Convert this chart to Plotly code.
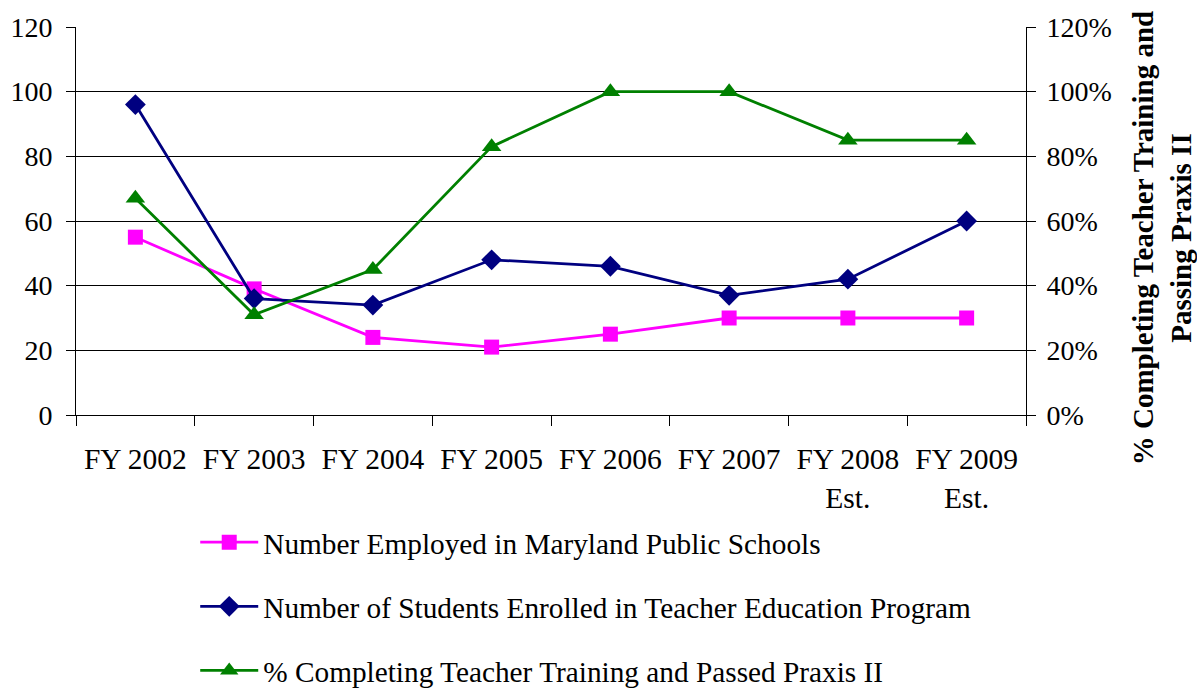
import plotly.graph_objects as go

categories = ["FY 2002", "FY 2003", "FY 2004", "FY 2005", "FY 2006", "FY 2007", "FY 2008<br>Est.", "FY 2009<br>Est."]
employed = [55, 39, 24, 21, 25, 30, 30, 30]
enrolled = [96, 36, 34, 48, 46, 37, 42, 60]
pct_passed = [0.67, 0.31, 0.45, 0.83, 1.00, 1.00, 0.85, 0.85]

names = [
    "Number Employed in Maryland Public Schools",
    "Number of Students Enrolled in Teacher Education Program",
    "% Completing Teacher Training and Passed Praxis II",
]
right_title = "<b>% Completing Teacher Training and<br>Passing Praxis II</b>"

FONT = "Liberation Serif, Times New Roman, serif"

fig = go.Figure()
fig.add_trace(go.Scatter(
    x=categories, y=employed, name=names[0], mode="lines+markers",
    line=dict(color="#FF00FF", width=2.8),
    marker=dict(symbol="square", size=15, color="#FF00FF"),
    legendgroup="a", yaxis="y"))
fig.add_trace(go.Scatter(
    x=categories, y=enrolled, name=names[1], mode="lines+markers",
    line=dict(color="#000080", width=2.8),
    marker=dict(symbol="diamond", size=16, color="#000080"),
    legendgroup="b", yaxis="y"))
fig.add_trace(go.Scatter(
    x=categories, y=pct_passed, name=names[2], mode="lines+markers",
    line=dict(color="#008000", width=2.8),
    marker=dict(symbol="triangle-up", size=17, color="#008000"),
    legendgroup="c", yaxis="y2"))

fig.update_layout(
    width=1197, height=691,
    margin=dict(l=76, r=171, t=27, b=276, autoexpand=False),
    paper_bgcolor="white", plot_bgcolor="white",
    font=dict(family=FONT, size=29, color="black"),
    showlegend=True,
    legend=dict(
        x=0.1255, y=-0.262, xanchor="left", yanchor="top",
        orientation="v", tracegroupgap=23, itemwidth=58,
        font=dict(family=FONT, size=29.3, color="black"),
        bgcolor="rgba(0,0,0,0)",
    ),
    xaxis=dict(
        type="category", range=[-0.5, 7.5],
        showline=True, linecolor="black", linewidth=1,
        ticks="outside", tickson="boundaries", ticklen=10, tickcolor="black",
        showgrid=False, zeroline=False,
        tickfont=dict(family=FONT, size=29.5),
        ticklabelstandoff=18,
        automargin=False,
    ),
    yaxis=dict(
        range=[0, 120], dtick=20, tick0=0,
        showline=True, linecolor="black", linewidth=1,
        ticks="outside", ticklen=9, tickcolor="black",
        showgrid=True, gridcolor="black", gridwidth=1,
        zeroline=False,
        tickfont=dict(family=FONT, size=28),
        ticklabelstandoff=8,
        automargin=False,
    ),
    yaxis2=dict(
        overlaying="y", side="right",
        range=[0, 1.2], dtick=0.2, tick0=0, tickformat=".0%",
        showline=True, linecolor="black", linewidth=1,
        ticks="outside", ticklen=9, tickcolor="black",
        showgrid=False, zeroline=False,
        tickfont=dict(family=FONT, size=28),
        ticklabelstandoff=5,
        automargin=False,
    ),
    annotations=[dict(
        text=right_title, textangle=-90,
        xref="paper", yref="paper", x=1.144, y=0.455,
        xanchor="center", yanchor="middle", showarrow=False,
        font=dict(family=FONT, size=29, color="black"),
    )],
)

fig.write_html(
    "out.html",
    config={"displayModeBar": False},
    post_script="document.body.style.margin='0';document.body.style.overflow='hidden';",
)
